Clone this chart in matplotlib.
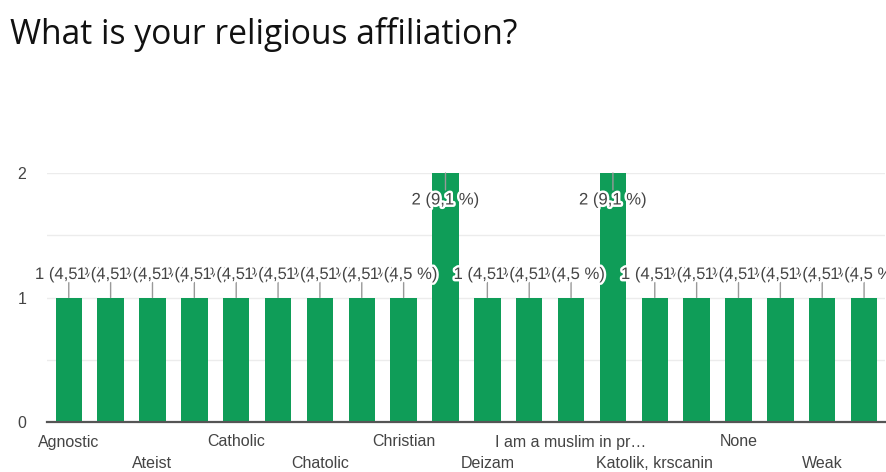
import matplotlib.pyplot as plt
import matplotlib.patheffects as pe

# 20 answers, every other one is labelled on the axis in the reference
labels = ['Agnostic', '', 'Ateist', '', 'Catholic', '', 'Chatolic', '', 'Christian', '',
          'Deizam', '', 'I am a muslim in pr\u2026', '', 'Katolik, krscanin', '', 'None', '', 'Weak', '']
counts = [1, 1, 1, 1, 1, 1, 1, 1, 1, 2, 1, 1, 1, 2, 1, 1, 1, 1, 1, 1]
y_ticks = [0, 1, 2]

TITLE = 'What is your religious affiliation?'
GREEN = '#0f9d58'
TXT = '#444444'

total = sum(counts)
x = list(range(len(counts)))

fig = plt.figure(figsize=(8.86, 4.72), dpi=100)
ax = fig.add_axes([47 / 886, 1 - 422 / 472, (885 - 47) / 886, (422 - 173) / 472])

ax.bar(x, counts, width=0.63, color=GREEN, zorder=2)

ax.set_xlim(-0.52, 19.5)
ax.set_ylim(0, 2)
ax.set_yticks(y_ticks)
ax.set_yticks([0.5, 1.5], minor=True)
ax.grid(axis='y', which='both', color='#ececec', linewidth=1, zorder=0)
ax.tick_params(axis='y', which='both', length=0, pad=15, labelsize=11.5, labelcolor=TXT)
ax.tick_params(axis='x', length=0)
ax.set_xticks([])
for s in ('top', 'right', 'left'):
    ax.spines[s].set_visible(False)
ax.spines['bottom'].set_color('#555555')
ax.spines['bottom'].set_linewidth(1.6)
ax.spines['bottom'].set_zorder(3)

halo = [pe.withStroke(linewidth=3.5, foreground='white')]
top = max(counts)
for xi, v in zip(x, counts):
    pct = f'{v / total * 100:.1f}'.replace('.', ',')
    if v == top:
        off_line, off_txt = -17, -27
    else:
        off_line, off_txt = 15, 23
    ax.annotate('', xy=(xi, v), xytext=(0, off_line), textcoords='offset pixels',
                arrowprops=dict(arrowstyle='-', color='#999999', lw=1, shrinkA=0, shrinkB=0),
                zorder=4)
    ax.annotate(f'{v} ({pct} %)', xy=(xi, v), xytext=(0, off_txt), textcoords='offset pixels',
                ha='center', va='center', fontsize=12, color=TXT, family='Liberation Sans',
                path_effects=halo, zorder=5)

for i, lab in enumerate(labels):
    if not lab:
        continue
    row = (i // 2) % 2
    ax.annotate(lab, xy=(i, 0), xycoords=('data', 'axes fraction'),
                xytext=(0, -20 - 21 * row), textcoords='offset pixels',
                ha='center', va='center', fontsize=11.5, color=TXT, family='Liberation Sans')

for t in ax.get_yticklabels():
    t.set_family('Liberation Sans')

fig.text(10 / 886, 1 - 35 / 472, TITLE, fontsize=24.2, family='Open Sans',
         color='#111111', ha='left', va='center')

fig.savefig('out.png', dpi=100)
